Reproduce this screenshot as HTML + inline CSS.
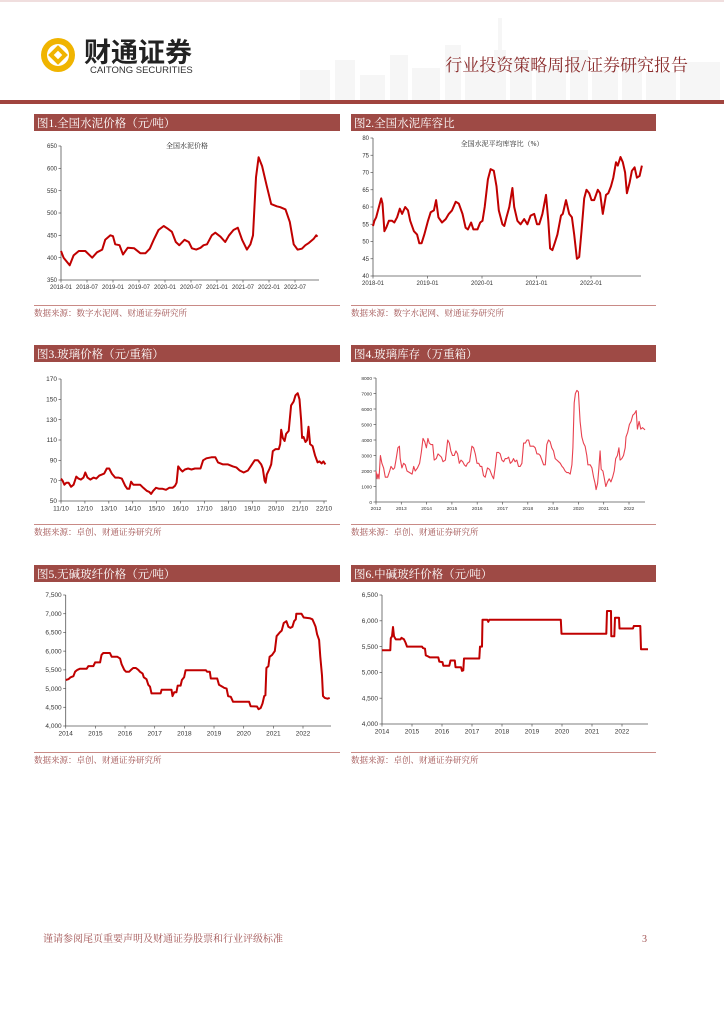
<!DOCTYPE html>
<html><head><meta charset="utf-8"><style>
body{margin:0;background:#fff;}
svg{display:block;font-family:"Liberation Serif","Noto Serif CJK SC",serif;}
</style></head><body>
<svg id="page" width="724" height="1024" viewBox="0 0 724 1024" xmlns="http://www.w3.org/2000/svg">
<rect x="0" y="0" width="724" height="1024" fill="#fff"/>
<rect x="0" y="0" width="724" height="2" fill="#f0dede"/>
<g fill="#f6f6f6">
<rect x="300" y="70" width="30" height="30"/><rect x="335" y="60" width="20" height="40"/><rect x="360" y="75" width="25" height="25"/>
<rect x="390" y="55" width="18" height="45"/><rect x="412" y="68" width="28" height="32"/><rect x="445" y="45" width="16" height="55"/>
<rect x="465" y="62" width="30" height="38"/><rect x="498" y="18" width="4" height="82"/><rect x="494" y="50" width="12" height="50"/>
<rect x="510" y="58" width="22" height="42"/><rect x="536" y="66" width="30" height="34"/><rect x="570" y="50" width="18" height="50"/>
<rect x="592" y="70" width="26" height="30"/><rect x="622" y="58" width="20" height="42"/><rect x="646" y="72" width="30" height="28"/><rect x="680" y="62" width="40" height="38"/>
</g>
<g>
<circle cx="58" cy="55" r="17" fill="#F0B400"/>
<circle cx="58" cy="55" r="11" fill="#fff"/>
<rect x="51" y="48" width="14" height="14" transform="rotate(45 58 55)" fill="#F0B400"/>
<rect x="55" y="52" width="6" height="6" transform="rotate(45 58 55)" fill="#fff"/>
</g>
<text x="84" y="62" font-size="27" font-weight="bold" fill="#222" font-family="Liberation Sans, Noto Sans CJK SC, sans-serif">财通证券</text>
<text x="90" y="73" font-size="9.5" fill="#333" font-family="Liberation Sans, sans-serif">CAITONG SECURITIES</text>
<text x="688" y="71" font-size="17" fill="#8B2D2D" text-anchor="end">行业投资策略周报/证券研究报告</text>
<rect x="0" y="100" width="724" height="4" fill="#A0443E"/>
<g id="charts"></g>
<text x="43" y="942" font-size="10" fill="#A05050">谨请参阅尾页重要声明及财通证券股票和行业评级标准</text>
<text x="642" y="942" font-size="10" fill="#A05050">3</text>
</svg>
<script>
// ---- Chart 1: national cement price (months since 2018-01)
const c1Months=[0,0.6,2,2.9,4.1,5.6,7.2,8.3,9.5,10.2,11.4,12,12.5,13.5,14.3,15.4,16.9,18.3,19.5,20.5,21.4,22.5,23.7,24.6,25.6,26.5,27.3,28.5,29.5,30.2,31.2,32.2,32.9,33.7,34.8,35.6,36.8,37.9,38.8,39.8,40.8,41.8,42.9,43.7,44.3,45,45.6,46.4,47.5,48.5,49.8,50.6,51.8,52.8,53.7,54.6,55.6,56.4,57.2,58.3,58.9,59.2];
const c1Values=[415,400,383,405,415,415,400,412,418,440,450,448,430,428,407,422,421,410,410,420,440,462,471,465,458,435,428,440,435,421,418,422,428,430,450,456,447,435,450,462,467,440,418,430,450,580,625,605,560,520,515,513,508,480,430,418,420,428,433,442,450,447];
const c1YTicks=[350,400,450,500,550,600,650];
const c1XLabels=["2018-01","2018-07","2019-01","2019-07","2020-01","2020-07","2021-01","2021-07","2022-01","2022-07"];
// ---- Chart 2: cement storage ratio (months since 2018-01)
const c2Months=[0,.3,.7,1.3,1.8,2.1,2.5,2.9,3.5,4.2,4.7,5.3,5.9,6.4,7.1,7.7,8.2,9,9.7,10.2,10.7,11.3,12.1,12.7,13.4,13.9,14.4,15.2,16,16.7,17.4,18.2,18.9,19.7,20.4,20.9,21.6,22.1,23,23.6,24.1,24.6,25.3,25.9,26.6,27.2,27.7,28.5,28.9,29.4,30,30.7,31.1,31.8,32.5,33.3,34,34.7,35.5,36.1,36.6,37.3,38.1,38.6,39,39.5,40,40.6,41.4,41.8,42.5,43.2,43.8,44.3,44.9,45.4,45.9,46.5,47,47.6,48.1,48.7,49.5,50,50.6,51.3,51.8,52.4,52.9,53.5,53.9,54.5,55,55.5,55.9,56.5,57,57.6,58.1,58.7,59.2];
const c2Values=[54.5,56,57,60,62.5,61,53,54,56,56,55.5,57,59.5,58,60,59,56,53,52,49.5,49.5,52,56,58.5,59,62,57,55.5,56.5,58,59,61.5,61,58,54,53.5,55.5,53.5,53.5,55.5,56,60,68,71,70.5,66,59,55,54.5,57,60,65.5,60,56,55,56.5,55,57.5,58,55,55,58,63.5,56,48,47.5,49.5,52,57.5,58,62,58,57,52,45,45.5,53,62.5,65,64,62,62,65,64,58,63.5,64,66,68.5,73,72,74.5,73,70,64,67,70.5,71.5,68.5,69,72];
const c2YTicks=[40,45,50,55,60,65,70,75,80];
const c2XLabels=["2018-01","2019-01","2020-01","2021-01","2022-01"];
// ---- Chart 3: glass price (months since 2011-10)
const c3Months=[0,.8,1.7,2.7,3.8,5,6.3,7.7,8.8,10,11.3,12.2,13.3,14.7,16.3,17.7,19.2,20.5,21.7,23,24.2,25.5,27.2,28.8,30.5,32.2,33.3,34.3,35.2,36.3,38,39.7,41.3,43,44.3,45.2,46.3,47.7,49.3,51,52.7,54.3,56,57.2,58,58.8,60,61,62.2,63.8,65.5,67.2,68.8,70,71.3,73,75.5,77.5,78.8,81.3,83.8,86.3,88,89.7,91.7,93.8,95.5,97.2,98.8,100.5,101.3,102.2,102.7,103.3,104.7,105.5,106.3,107.7,109.3,110,110.5,111.3,112.2,113,114.3,115.5,116.8,117.7,118.8,119.7,120.5,121,121.7,122.7,123.5,124.2,125,126.3,127.5,128.8,129.7,130.8,131.7,132.7];
const c3Values=[72,70,66,68,68,64,66,74,72,71,73,78,73,71,73,72,75,76,77,82,82,77,73,73,72,65,62,62,69,66,66,66,63,60,59,57,60,63,62,62,61,63,63,65,68,84,81,79,81,82,81,82,82,82,90,92,93,93,88,86,86,84,83,80,78,80,85,90,90,86,82,70,68,76,82,86,99,101,101,106,120,112,109,116,119,144,148,154,156,150,130,112,113,108,110,123,106,104,95,88,89,87,89,86];
const c3YTicks=[50,70,90,110,130,150,170];
const c3XLabels=["11/10","12/10","13/10","14/10","15/10","16/10","17/10","18/10","19/10","20/10","21/10","22/10"];
// ---- Chart 4: glass inventory (months since 2012-01)
const c4Months=[0,.5,.9,1.4,2.1,2.8,3.6,4.4,5.5,6.5,7.1,8.1,8.8,9.6,10.4,11.1,11.5,12.3,13.1,13.9,14.7,16,17.1,17.9,18.6,19.7,20.7,21.5,22.3,23.1,23.9,24.6,25.3,26.1,26.9,27.6,28.6,29.4,30.2,31,31.8,32.9,34,34.8,35.5,36.3,37.1,37.9,38.7,39.5,40.3,41.1,41.9,42.7,43.4,44.4,45.5,46.3,47.1,47.9,48.7,49.4,50.2,51,51.8,52.9,53.9,55,55.8,56.6,57.3,58.1,58.9,59.7,60.5,61.3,62.1,62.9,63.7,64.5,65.2,66,66.8,67.6,68.4,69.2,70,70.8,71.6,72.4,73.1,73.9,74.7,75.5,76.3,77.1,77.9,78.7,79.5,80.3,81,81.8,82.6,83.4,84.2,85,85.8,86.6,87.4,88.2,88.9,89.7,90.5,91.3,92.1,92.9,93.4,94,94.6,95.3,96,96.8,97.6,98.4,99.2,100,100.5,101.6,102.4,103.2,103.9,104.4,105.1,105.7,106.3,106.8,107.6,108.2,109,109.8,110.6,111.4,112.2,113,113.7,114.5,115.2,115.8,116.6,117.4,118.2,118.6,119.4,120.2,121,121.8,122.6,123.4,124,124.8,125.6,126.4,127.2,127.6];
const c4Values=[2000,1500,1800,1500,3000,2500,2200,1600,1600,2000,2300,2100,2200,2800,3500,3600,2800,2200,2500,2400,2000,1900,1800,2300,2000,2200,2500,3200,4100,3900,3500,4100,3800,3700,3700,2700,2800,3100,3000,2900,2600,2700,4000,3800,3300,3000,3000,3300,3100,2500,2700,2600,2400,2300,2500,2600,3600,3500,3100,2500,2500,2300,2300,1700,1600,2200,2100,1700,1500,2300,3200,3200,3100,2700,2600,2800,2800,2900,2500,2600,2800,2600,2700,2300,2300,2500,3800,3800,4000,4000,3600,3600,3600,3500,3100,3100,3000,2700,2400,2400,3700,4000,3900,3500,3300,2800,2700,2600,2500,2300,2200,2000,1900,1900,1800,2400,3500,6400,7000,7200,7100,5200,4200,3800,3600,3000,2400,2400,2200,1600,1200,800,1200,2200,3300,2100,2000,1600,1000,1300,1500,1300,1600,2000,2800,3000,3500,2700,2800,3000,3500,4200,4500,5000,5200,5600,5700,5900,4700,5200,4700,4800,4700,4650];
const c4YTicks=[0,1000,2000,3000,4000,5000,6000,7000,8000];
const c4XLabels=["2012","2013","2014","2015","2016","2017","2018","2019","2020","2021","2022"];
// ---- Chart 5: alkali-free fiberglass price (months since 2014-01)
const c5Months=[0,1.1,2,3.1,3.8,4.7,5.8,8.5,9.2,11.2,11.9,13.9,14.5,15.2,17.9,18.6,20.9,22,22.6,23.7,24.4,25.7,26.4,27.3,28.4,29.4,30,31.1,31.6,32.7,33.4,34.1,34.7,38.4,38.8,42.8,43.2,43.9,44.8,45.3,46.5,47,47.9,48.5,56.7,57.2,58.3,58.7,61.3,62,63.4,64.1,65.1,65.7,66.8,67.7,74.2,74.8,77.4,78,78.9,79.6,80.3,80.8,81.2,82,82.5,83.5,84.6,85.3,86.6,87.4,88.2,89.3,90.1,90.9,91.7,92.4,93.1,93.3,95.4,96.3,98.7,99.8,100.5,101.1,101.7,102.5,103,103.7,104.1,104.8,105.9,106.8];
const c5Values=[5230,5250,5300,5330,5450,5500,5530,5530,5600,5600,5700,5700,5900,5950,5950,5850,5850,5800,5650,5500,5450,5450,5500,5550,5550,5500,5450,5400,5300,5250,5100,5050,4870,4870,4970,4970,4800,4900,4900,5080,5080,5230,5300,5490,5490,5450,5450,5270,5270,5100,5050,5020,5000,4800,4780,4650,4650,4530,4520,4450,4480,4600,4800,4820,5550,5600,5850,5900,6000,6400,6500,6550,6750,6800,6650,6620,6650,6800,6850,7000,7000,6900,6880,6850,6750,6650,6450,6300,5850,5350,4800,4750,4730,4750];
const c5YTicks=[4000,4500,5000,5500,6000,6500,7000,7500];
const c5XLabels=["2014","2015","2016","2017","2018","2019","2020","2021","2022"];
// ---- Chart 6: medium-alkali fiberglass price (months since 2014-01)
const c6Months=[0,3.3,3.5,4,4.4,4.8,5.5,7.4,7.8,8.8,9.4,10,16,16.4,17.2,17.5,18.4,19.1,22.5,22.9,24.2,24.5,26.9,27.4,29.1,29.4,31.6,32,32.5,32.8,38.9,39.2,40,40.2,42.1,42.5,42.9,71.5,71.8,89.7,90,91.6,91.7,92.9,93.2,94.8,95,100.4,100.7,103.3,103.6,106.4];
const c6Values=[5430,5430,5660,5700,5880,5700,5640,5640,5670,5640,5580,5500,5500,5470,5460,5330,5310,5290,5290,5210,5200,5130,5130,5230,5230,5100,5100,5030,5040,5270,5270,5500,5500,6020,6020,5980,6020,6020,5750,5750,6190,6190,5700,5700,6060,6060,5850,5850,5900,5900,5450,5450];
const c6YTicks=[4000,4500,5000,5500,6000,6500];
const c6XLabels=["2014","2015","2016","2017","2018","2019","2020","2021","2022"];

const NS="http://www.w3.org/2000/svg";
const root=document.getElementById('charts');
function el(tag,attrs,parent){const e=document.createElementNS(NS,tag);for(const k in attrs)e.setAttribute(k,attrs[k]);(parent||root).appendChild(e);return e;}
function fmt(v,comma){return comma?v.toLocaleString('en-US'):String(v);}

function panelHeader(x,y,w,title,name){
  const g=el('g',{});
  
  
  el('rect',{x:x,y:y,width:w,height:17,fill:'#9E4A45'},g);
  const t=el('text',{x:x+3,y:y+13,'font-size':11.5,fill:'#fff'},g);
  t.textContent=title;
}
function source(x,y,w,txt){
  const l=el('rect',{x:x,y:y,width:w,height:1,fill:'#C98A86'});
  
  
  const t=el('text',{x:x,y:y+11,'font-size':8.5,fill:'#A05050'});
  
  
  t.textContent=txt;
}
function chart(o){
  const g=el('g',{});
  
  
  const xs=m=>o.x0+(m-o.m0)*o.pxPerMonth;
  const ys=v=>o.yb-(v-o.ymin)/(o.ymax-o.ymin)*(o.yb-o.yt);
  const ya=el('line',{x1:o.x0,y1:o.yt,x2:o.x0,y2:o.yb,stroke:'#555','stroke-width':0.8},g);
  
  
  const xa=el('line',{x1:o.x0,y1:o.yb,x2:o.xe,y2:o.yb,stroke:'#555','stroke-width':0.8},g);
  
  
  o.yTicks.forEach(v=>{
    const y=ys(v);
    el('line',{x1:o.x0-2.5,y1:y,x2:o.x0,y2:y,stroke:'#555','stroke-width':0.7},g);
    const t=el('text',{x:o.x0-4,y:y+2.2,'font-size':o.fs,'text-anchor':'end',fill:'#333','font-family':'Liberation Sans, sans-serif'},g);
    
    
    t.textContent=fmt(v,o.comma);
  });
  o.xLabels.forEach((lab,i)=>{
    const x=xs(o.m0+i*o.labelStep);
    el('line',{x1:x,y1:o.yb,x2:x,y2:o.yb+2.5,stroke:'#555','stroke-width':0.7},g);
    const t=el('text',{x:x,y:o.yb+o.fs+3,'font-size':o.fs,'text-anchor':'middle',fill:'#333','font-family':'Liberation Sans, sans-serif'},g);
    
    
    t.textContent=lab;
  });
  if(o.title){
    const t=el('text',{x:o.tx,y:o.ty,'font-size':7,'text-anchor':'middle',fill:'#222'},g);
    
    
    t.textContent=o.title;
  }
  const pts=o.months.map((m,i)=>xs(m).toFixed(1)+','+ys(o.values[i]).toFixed(1)).join(' ');
  const p=el('polyline',{points:pts,fill:'none',stroke:o.color,'stroke-width':o.sw,'stroke-linejoin':'round'},g);
  
  
}

panelHeader(34,114,306,'图1.全国水泥价格（元/吨）','figure1-header');
panelHeader(351,114,305,'图2.全国水泥库容比','figure2-header');
panelHeader(34,345,306,'图3.玻璃价格（元/重箱）','figure3-header');
panelHeader(351,345,305,'图4.玻璃库存（万重箱）','figure4-header');
panelHeader(34,565,306,'图5.无碱玻纤价格（元/吨）','figure5-header');
panelHeader(351,565,305,'图6.中碱玻纤价格（元/吨）','figure6-header');

chart({name:'cement-price-chart',months:c1Months,values:c1Values,yTicks:c1YTicks,xLabels:c1XLabels,m0:0,labelStep:6,x0:61,xe:319,pxPerMonth:26/6,yt:146,yb:280,ymin:350,ymax:650,fs:6,color:'#C00000',sw:2,title:'全国水泥价格',tx:187,ty:148});
chart({name:'cement-storage-chart',months:c2Months,values:c2Values,yTicks:c2YTicks,xLabels:c2XLabels,m0:0,labelStep:12,x0:373,xe:641,pxPerMonth:54.5/12,yt:138,yb:276,ymin:40,ymax:80,fs:6,color:'#C00000',sw:2,title:'全国水泥平均库容比（%）',tx:502,ty:146});
chart({name:'glass-price-chart',months:c3Months,values:c3Values,yTicks:c3YTicks,xLabels:c3XLabels,m0:0,labelStep:12,x0:61,xe:327,pxPerMonth:263/132,yt:379,yb:501,ymin:50,ymax:170,fs:6.5,color:'#C00000',sw:2});
chart({name:'glass-inventory-chart',months:c4Months,values:c4Values,yTicks:c4YTicks,xLabels:c4XLabels,m0:0,labelStep:12,x0:376,xe:645,pxPerMonth:253/120,yt:378,yb:502,ymin:0,ymax:8000,fs:4.8,color:'#E8414F',sw:1.1});
chart({name:'alkali-free-fiberglass-chart',months:c5Months,values:c5Values,yTicks:c5YTicks,xLabels:c5XLabels,m0:0,labelStep:12,x0:65.7,xe:331,pxPerMonth:237.3/96,yt:595,yb:726,ymin:4000,ymax:7500,fs:6.5,comma:true,color:'#C00000',sw:2});
chart({name:'medium-alkali-fiberglass-chart',months:c6Months,values:c6Values,yTicks:c6YTicks,xLabels:c6XLabels,m0:0,labelStep:12,x0:382,xe:648,pxPerMonth:2.5,yt:595,yb:724,ymin:4000,ymax:6500,fs:6.5,comma:true,color:'#C00000',sw:2});

source(34,305,306,'数据来源：数字水泥网、财通证券研究所');
source(351,305,305,'数据来源：数字水泥网、财通证券研究所');
source(34,524,306,'数据来源：卓创、财通证券研究所');
source(351,524,305,'数据来源：卓创、财通证券研究所');
source(34,752,306,'数据来源：卓创、财通证券研究所');
source(351,752,305,'数据来源：卓创、财通证券研究所');
</script>
</body></html>
